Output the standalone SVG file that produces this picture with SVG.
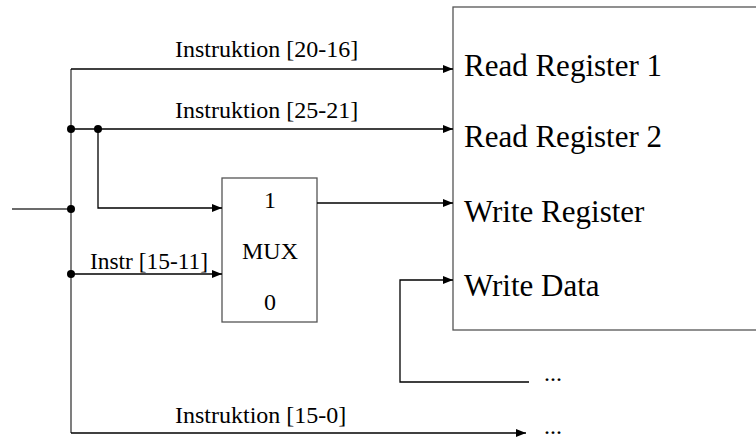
<svg xmlns="http://www.w3.org/2000/svg" width="756" height="439" viewBox="0 0 756 439">
<defs>
<marker id="ah" markerWidth="10" markerHeight="8" refX="10" refY="4" orient="auto" markerUnits="userSpaceOnUse">
<path d="M0,0 L10,4 L0,8 Z" fill="#000"/>
</marker>
<style>
.ln{fill:none;stroke:#3a3a3a;stroke-width:1.3}
.ar{fill:none;stroke:#000;stroke-width:1.3;marker-end:url(#ah)}
.box{fill:#fff;stroke:#555;stroke-width:1.3}
.t{font-family:"Liberation Serif",serif;fill:#000}
.s{font-size:24px}
.b{font-size:31px}
.dot{fill:#000}
</style>
</defs>
<rect width="756" height="439" fill="#fff"/>
<g id="register">
<rect class="box" x="453" y="7" width="310" height="323"/>
<text class="t b" x="464" y="76">Read Register 1</text>
<text class="t b" x="464" y="147">Read Register 2</text>
<text class="t b" x="464" y="222">Write Register</text>
<text class="t b" x="464" y="296">Write Data</text>
</g>
<g id="mux">
<rect class="box" x="222" y="178" width="95" height="144"/>
<text class="t s" x="270" y="208" text-anchor="middle">1</text>
<text class="t s" x="270" y="259" text-anchor="middle">MUX</text>
<text class="t s" x="270" y="310" text-anchor="middle">0</text>
</g>
<g id="connectors">
<path class="ln" d="M12,209 H71"/>
<path class="ln" d="M71,69 V433"/>
<path class="ar" d="M71,69 H453"/>
<path class="ar" d="M71,129 H453"/>
<path class="ar" d="M98,129 V208 H222"/>
<path class="ar" d="M71,274 H222"/>
<path class="ar" d="M317,203 H453"/>
<path class="ar" d="M529,382 H400 V280 H453"/>
<path class="ar" d="M71,433 H526"/>
<circle class="dot" cx="71" cy="129" r="4"/>
<circle class="dot" cx="98" cy="129" r="4"/>
<circle class="dot" cx="71" cy="209" r="4"/>
<circle class="dot" cx="71" cy="274" r="4"/>
</g>
<g id="labels">
<text class="t s" x="175" y="57">Instruktion [20-16]</text>
<text class="t s" x="175" y="118">Instruktion [25-21]</text>
<text class="t s" x="90" y="269" textLength="118" lengthAdjust="spacingAndGlyphs">Instr [15-11]</text>
<text class="t s" x="175" y="423">Instruktion [15-0]</text>
<text class="t s" x="544" y="381">...</text>
<text class="t s" x="544" y="434">...</text>
</g>
</svg>
